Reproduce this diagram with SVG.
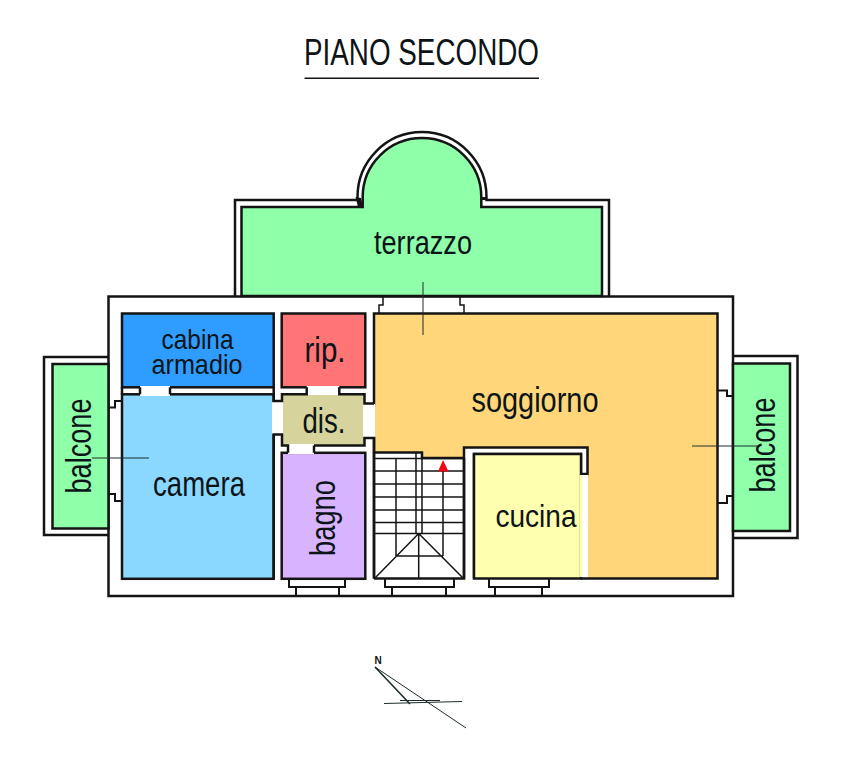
<svg xmlns="http://www.w3.org/2000/svg" width="841" height="768" viewBox="0 0 841 768">
<style>
.w{fill:none;stroke:#141414;stroke-width:2.5;stroke-linejoin:miter}
.t{fill:none;stroke:#141414;stroke-width:1.5}
.l{fill:none;stroke:#1c2c2c;stroke-width:1}
text{font-family:"Liberation Sans",Arial,sans-serif;fill:#0c1418;text-anchor:middle}
</style>
<rect width="841" height="768" fill="#fff"/>
<g id="title">
<text x="421.500" y="64.500" font-size="36" textLength="235" lengthAdjust="spacingAndGlyphs">PIANO SECONDO</text>
<line x1="304.500" y1="78.300" x2="539" y2="78.300" stroke="#141414" stroke-width="1.500"/>
</g>
<g id="outer-wall">
<rect x="108.500" y="296.500" width="624.500" height="299.500" class="w"/>
</g>
<g id="terrazzo">
<path d="M235 296V200H357.500V197A64.500 65 0 0 1 486.500 197V200H609V296" class="w"/>
<path d="M241.500 296V207H362.700V197A59.300 59 0 0 1 481.300 197V207H602V296Z" class="w" style="fill:#8fffaa"/>
<path d="M355.500 197L361 198L363 207H358Z" fill="#141414"/>
<path d="M486.500 197V200H481V197Z" fill="#141414"/>
<text x="423" y="254" font-size="34" textLength="98" lengthAdjust="spacingAndGlyphs">terrazzo</text>
</g>
<g id="balcone-sx">
<path d="M108.500 357H44V535H108.500" class="w"/>
<path d="M108.500 364H52.500V528.500H108.500Z" class="w" style="fill:#8fffaa"/>
<text transform="translate(91 446) rotate(-90)" font-size="35" textLength="95" lengthAdjust="spacingAndGlyphs">balcone</text>
</g>
<g id="balcone-dx">
<path d="M733 356H797.500V538H733" class="w"/>
<path d="M733 363.500H790V531H733Z" class="w" style="fill:#8fffaa"/>
<text transform="translate(775 445) rotate(-90)" font-size="35" textLength="95" lengthAdjust="spacingAndGlyphs">balcone</text>
</g>
<g id="cabina-armadio">
<rect x="122" y="313.500" width="151.700" height="73.800" class="w" style="fill:#2e9dff"/>
<text x="197.500" y="348.500" font-size="28" textLength="72" lengthAdjust="spacingAndGlyphs">cabina</text>
<text x="197" y="373.500" font-size="28" textLength="91" lengthAdjust="spacingAndGlyphs">armadio</text>
</g>
<g id="rip">
<rect x="281.700" y="313.500" width="83.600" height="73.800" class="w" style="fill:#ff7575"/>
<text x="325" y="361.500" font-size="35" textLength="41" lengthAdjust="spacingAndGlyphs">rip.</text>
</g>
<g id="camera">
<rect x="122" y="394.300" width="151.700" height="184.500" class="w" style="fill:#8ad8ff"/>
<text x="199" y="496" font-size="35" textLength="92" lengthAdjust="spacingAndGlyphs">camera</text>
</g>
<g id="soggiorno">
<path d="M374 313.500H717.500V578.500H588V447.500H464V458H422V452.500H374Z" fill="#ffd77a"/>
<path d="M374 405V313.500H717.500V578.500H581M374 437V452.500H422V458H464" class="w"/>
<text x="535" y="412" font-size="35" textLength="127" lengthAdjust="spacingAndGlyphs">soggiorno</text>
</g>
<g id="dis">
<rect x="282" y="394.300" width="82.500" height="51" fill="#d6d49c"/>
<text x="324" y="433" font-size="35" textLength="43" lengthAdjust="spacingAndGlyphs">dis.</text>
</g>
<g id="bagno">
<rect x="281.700" y="452.800" width="83.600" height="126" class="w" style="fill:#d8b4ff"/>
<text transform="translate(335 518) rotate(-90)" font-size="35" textLength="76" lengthAdjust="spacingAndGlyphs">bagno</text>
</g>
<g id="cucina">
<path d="M464 578.500V447.500H587.500V474H581V454H474V578.500" class="w"/>
<rect x="474" y="454" width="107" height="124.500" class="w" style="fill:#ffffb0"/>
<rect x="581" y="475" width="7" height="102" fill="#fff"/>
<rect x="579.500" y="475" width="2.800" height="102" fill="#ffffb0"/>
<text x="536" y="526.500" font-size="32" textLength="81" lengthAdjust="spacingAndGlyphs">cucina</text>
</g>
<g id="partitions">
<rect x="140" y="386" width="30" height="10" fill="#fff"/>
<rect x="306.700" y="386" width="32.600" height="9" fill="#fff"/>
<rect x="288" y="444" width="26" height="10" fill="#fff"/>
<rect x="272" y="402" width="11" height="32" fill="#fff"/>
<rect x="363" y="404" width="12" height="33" fill="#fff"/>
<path d="M140 387.300V394.300M170 387.300V394.300M306.700 387.300V394.300H282V399.500M339.300 387.300V394.300H364.500V403.500H374M273.700 387V401H282V394.300M273.700 578V434.500H282V445.500H288V452.800M314 445.500V452.800M314 445.500H364.500V438H374V578.500" class="w"/>
<path d="M122 394.300V387.300" class="w"/>
</g>
<g id="windows">
<path d="M383 296V305H379V313.500M460 296V305H464V313.500" class="t"/>
<path d="M108.500 407.500H115V401H122M108.500 494H115V501H122" class="w" style="stroke-width:2"/>
<path d="M733 396H727V390.500H717.500M733 496H727V503H717.500" class="w" style="stroke-width:2"/>
<path d="M289 578.500V587H345V578.500M296 587V596M339 587V596M385 578.500V587H454V578.500M392 587V596M446 587V596M489 578.500V587H549V578.500M495 587V596M542 587V596" class="w" style="stroke-width:2"/>
</g>
<g id="stairs">
<path d="M374 578.500H464V458" class="w"/>
<path d="M374 452.500V578.500" class="w"/>
<path d="M374 458.500H464M374 471H464M374 484H464M374 497H464M374 510H464M374 522.500H464M374 533.500H464M396 458V556M416 453V533.500M422 453V533.500M443 471V556M418.700 533.500V578M418.700 533.500L375 578M418.700 533.500L463 578M396 556H443" class="t"/>
<polygon points="443,460 438,471.500 448.500,471.500" fill="#ee0a14"/>
</g>
<g id="connectors">
<line x1="423" y1="282" x2="423" y2="335" class="l"/>
<line x1="92" y1="458" x2="149" y2="458" class="l"/>
<line x1="692" y1="446" x2="757" y2="446" class="l"/>
</g>
<g id="north">
<text x="378" y="663.500" font-size="10" font-weight="bold" style="fill:#111">N</text>
<path d="M375 667L466 728M384 703.500L462 701.500M400 700.500H440" class="l"/>
<path d="M375 667L410 704" class="l" style="stroke-width:1.600"/>
</g>
</svg>
